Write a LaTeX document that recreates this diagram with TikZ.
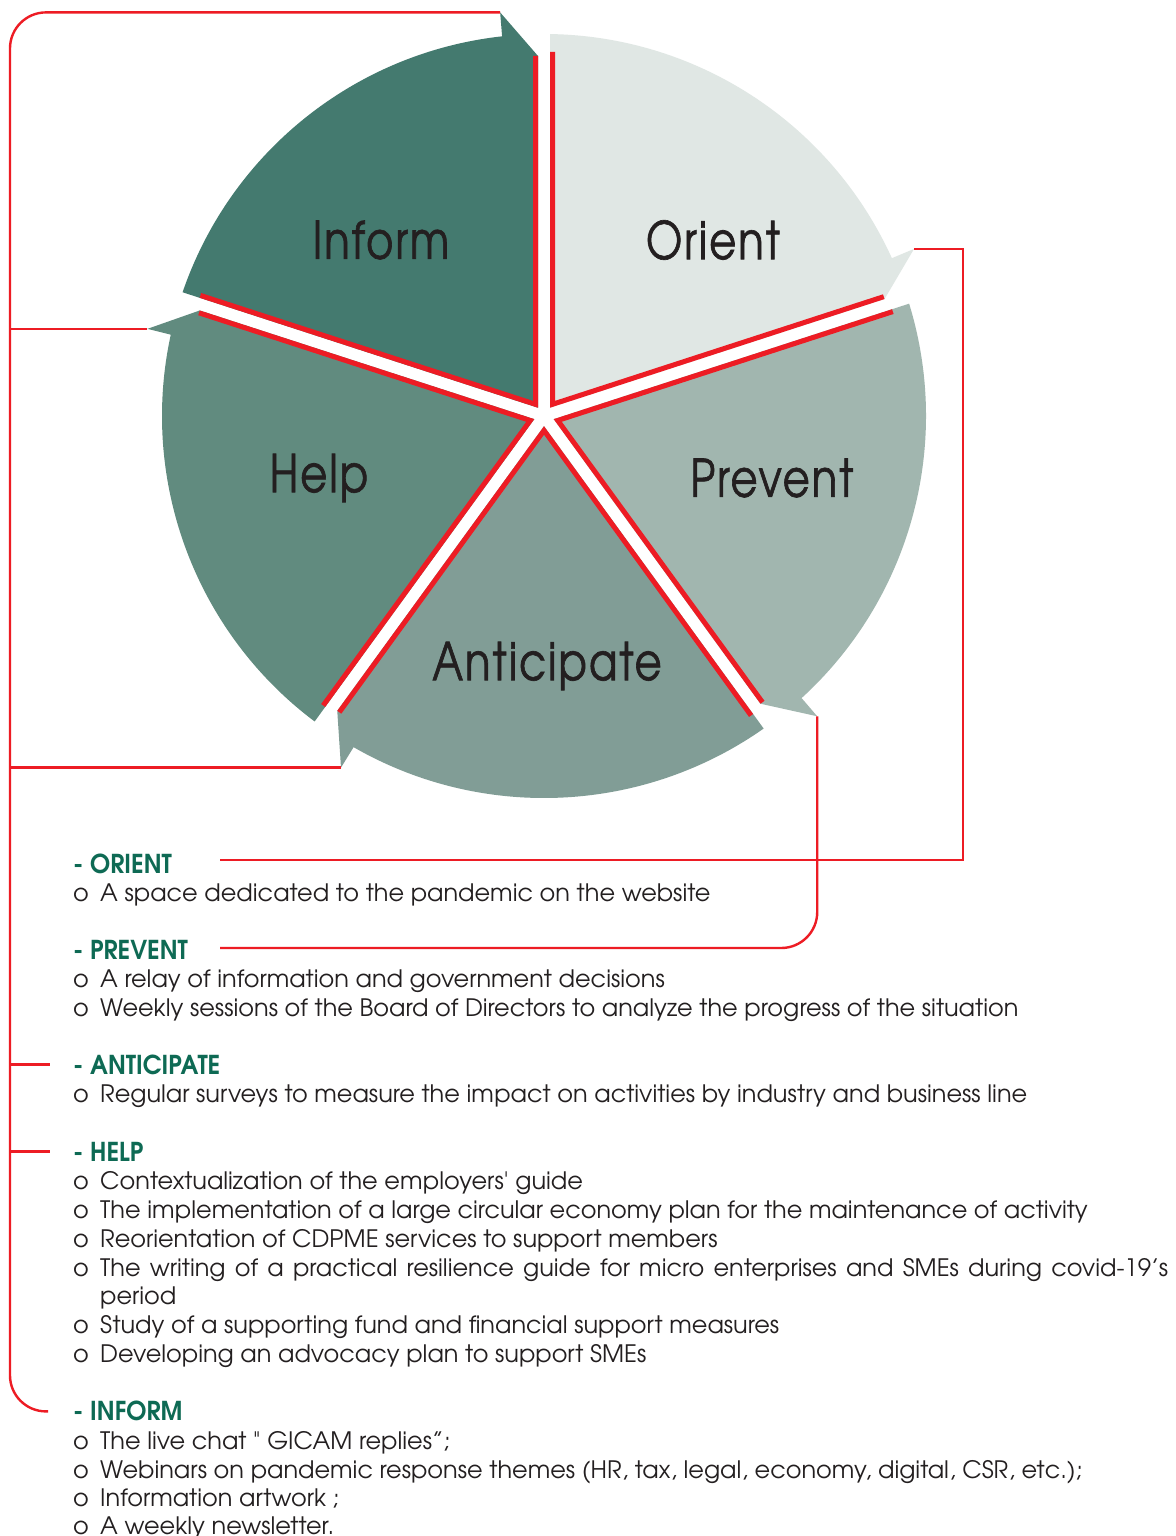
\documentclass[tikz,border=0pt]{standalone}
\usepackage{fontspec}
\usetikzlibrary{calc}
\newfontfamily\gothic[BoldFont=texgyreadventor-bold.otf]{texgyreadventor-regular.otf}
\newfontfamily\headfont[FakeStretch=0.93]{texgyreadventor-bold.otf}
\newfontfamily\segfont[FakeStretch=0.8,FakeBold=1.2,LetterSpace=4]{texgyreadventor-regular.otf}
\definecolor{cred}{HTML}{ED1C24}
\definecolor{textdark}{HTML}{231F20}
\definecolor{headgreen}{HTML}{0E6A54}
\definecolor{cInform}{HTML}{447A6F}
\definecolor{cOrient}{HTML}{E0E7E4}
\definecolor{cPrevent}{HTML}{A1B6AF}
\definecolor{cAnticipate}{HTML}{819D96}
\definecolor{cHelp}{HTML}{618B7F}
\newcommand\bul{\makebox[27pt][l]{o}}
% #1 clockwise boundary angle, #2 colour, #3 name of arrow tip, #4 tip angle offset
\newcommand\pieseg[4]{%
  \coordinate (#3) at ($(c)+(#1+#4:406)$);
  \fill[#2] ($(c)+(#1+36:10.21)$) -- ($(c)+(#1+72:381.95)+(#1-18:6)$)
     arc[start angle=#1+71.1, end angle=#1+#4+0.1, radius=382]
     -- (#3) -- ($(c)+(#1:360)+(#1+90:6)$) -- cycle;
  \draw[redline] ($(c)+(#1+72:364)+(#1-18:8.5)$) -- ($(c)+(#1+36:14.46)$)
     -- ($(c)+(#1:360)+(#1+90:8.5)$);
}
\tikzset{
  conn/.style={draw=cred, line width=2.4pt},
  redline/.style={draw=cred, line width=5pt, line join=miter},
  seglabel/.style={font=\segfont\fontsize{52}{52}\selectfont, text=textdark, inner sep=0pt},
  head/.style={anchor=base west, inner sep=0pt, font=\headfont\fontsize{26}{29}\selectfont, text=headgreen},
  item/.style={anchor=base west, inner sep=0pt, font=\gothic\fontsize{24}{29}\selectfont, text=textdark},
}
\begin{document}
\begin{tikzpicture}[x=1pt,y=1pt]
\useasboundingbox (0,0) rectangle (1175,-1536);
\fill[white] (0,0) rectangle (1175,-1536);
\coordinate (c) at (544,-416);
\coordinate (lx) at (10,0);
\coordinate (rx) at (963,0);

\pieseg{18}{cOrient}{tOrient}{6.3}
\pieseg{-54}{cPrevent}{tPrevent}{6.3}
\pieseg{-126}{cAnticipate}{tAnticipate}{6.0}
\pieseg{-198}{cHelp}{tHelp}{5.6}
\pieseg{90}{cInform}{tInform}{6.2}

\node[seglabel] (lInform) at (381,-240) {Inform};
\node[seglabel] (lOrient) at (713,-240) {Orient};
\node[seglabel] (lHelp) at (319,-478) {Help};
\node[seglabel] (lPrevent) at (772,-478) {Prevent};
\node[seglabel] (lAnticipate) at (547,-666) {Anticipate};

% texts
\node[head] (hOrient) at (73,-873) {- ORIENT};
\node[item] (o1) at (73,-901) {\bul A space dedicated to the pandemic on the website};
\node[head] (hPrevent) at (73,-959) {- PREVENT};
\node[item] (p1) at (73,-987) {\bul A relay of information and government decisions};
\node[item] (p2) at (73,-1016) {\bul Weekly sessions of the Board of Directors to analyze the progress of the situation};
\node[head] (hAnticipate) at (73,-1074) {- ANTICIPATE};
\node[item] (a1) at (73,-1102) {\bul Regular surveys to measure the impact on activities by industry and business line};
\node[head] (hHelp) at (73,-1161) {- HELP};
\node[item] (h1) at (73,-1189) {\bul Contextualization of the employers' guide};
\node[item] (h2) at (73,-1218) {\bul The implementation of a large circular economy plan for the maintenance of activity};
\node[item] (h3) at (73,-1247) {\bul Reorientation of CDPME services to support members};
\node[item] (h4) at (73,-1276) {\bul\makebox[1068pt][s]{The writing of a practical resilience guide for micro enterprises and SMEs during covid-19’s}};
\node[item] (h4b) at (100,-1304) {period};
\node[item] (h5) at (73,-1333) {\bul Study of a supporting fund and financial support measures};
\node[item] (h6) at (73,-1362) {\bul Developing an advocacy plan to support SMEs};
\node[head] (hInform) at (73,-1420) {- INFORM};
\node[item] (i1) at (73,-1449) {\bul The live chat " GICAM replies”;};
\node[item] (i2) at (73,-1478) {\bul Webinars on pandemic response themes (HR, tax, legal, economy, digital, CSR, etc.);};
\node[item] (i3) at (73,-1506) {\bul Information artwork ;};
\node[item] (i4) at (73,-1534) {\bul A weekly newsletter.};

% connector ends
\coordinate (eOrient) at (220,-860);
\coordinate (ePrevent) at (220,-948);
\coordinate (eAnticipate) at ($(hAnticipate.west)+(-23,0)$);
\coordinate (eHelp) at ($(hHelp.west)+(-23,0)$);
\coordinate (eInform) at ($(hInform.west)+(-25,-1)$);

% connectors
\draw[conn, rounded corners=36pt] (tInform) -- (lx |- tInform) -- (lx |- eInform) -- (eInform);
\draw[conn] (tHelp) -- (lx |- tHelp);
\draw[conn] (tAnticipate) -- (lx |- tAnticipate);
\draw[conn] (lx |- eAnticipate) -- (eAnticipate);
\draw[conn] (lx |- eHelp) -- (eHelp);
\draw[conn] (tOrient) -- (rx |- tOrient) -- (rx |- eOrient) [rounded corners=36pt] -- (eOrient);
\draw[conn, rounded corners=36pt] (tPrevent) |- (ePrevent);
\end{tikzpicture}
\end{document}
